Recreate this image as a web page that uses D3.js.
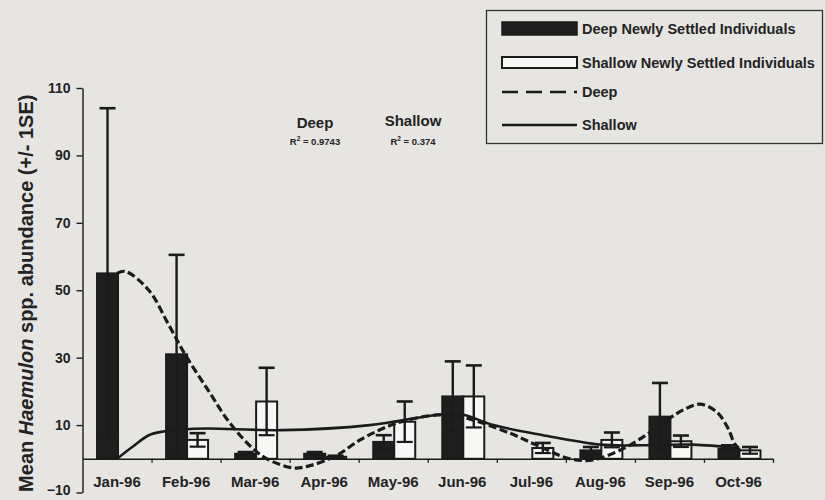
<!DOCTYPE html>
<html>
<head>
<meta charset="utf-8">
<script src="https://cdn.jsdelivr.net/npm/d3@7"></script>
<style>
  html, body { margin: 0; padding: 0; background: #e6e5e2; }
  svg { display: block; }
  text { font-family: "Liberation Sans", Arial, sans-serif; fill: #232323; }
</style>
</head>
<body>
<svg id="chart" width="825" height="500"></svg>
<script>
// Monthly categories
const months = ["Jan-96", "Feb-96", "Mar-96", "Apr-96", "May-96", "Jun-96", "Jul-96", "Aug-96", "Sep-96", "Oct-96"];

// Mean abundance of newly settled individuals and their standard errors
const deepMean    = [55, 31, 1.5, 1.5, 5, 18.5, 0, 2.5, 12.5, 3];
const deepSE      = [49, 29.5, 0.5, 0.5, 2, 10.4, 0, 1, 10, 1];
const shallowMean = [0, 5.6, 17, 0.6, 11, 18.5, 3.2, 5.6, 5.2, 2.5];
const shallowSE   = [0, 2, 10, 0.3, 6, 9.2, 1.5, 2.2, 1.7, 1];

// Polynomial trend lines, sampled as [month position (Jan = 0), value]
const deepTrendPos = [0, 0.12, 0.46, 0.75, 0.99, 1.33, 1.62, 1.96, 2.17, 2.55, 2.8, 3.18, 3.52, 3.81, 4.05, 4.63, 4.97, 5.69, 6.08, 6.56, 6.9, 7.33, 7.68, 8.0, 8.2, 8.44, 8.68, 8.85, 8.94, 9.0];
const deepTrendVal = [55, 55.6, 50, 39.7, 30.8, 20, 11, 3.2, 0, -2.7, -2, 1, 5.6, 8.6, 10.6, 13, 12.5, 7.6, 4, 0, -0.3, 3, 7.3, 12, 14.5, 16.2, 14, 9, 4.6, 3.2];
const shallowTrendPos = [0, 0.22, 0.46, 0.67, 0.94, 1.3, 2.39, 3.66, 4.63, 4.97, 5.45, 6.17, 7.0, 7.62, 8.34, 8.98];
const shallowTrendVal = [0, 3.5, 7, 8.1, 8.7, 9, 8.5, 10, 13, 13.3, 10, 7, 4.2, 4, 4.2, 3.2];

// Axis ticks
const yTicks = [-10, 10, 30, 50, 70, 90, 110];

// Trend fit statistics
const fitLabels = [
  { name: "Deep", r2: "0.9743" },
  { name: "Shallow", r2: "0.374" }
];

const legendItems = [
  { label: "Deep Newly Settled Individuals", kind: "deepBar" },
  { label: "Shallow Newly Settled Individuals", kind: "shallowBar" },
  { label: "Deep", kind: "dash" },
  { label: "Shallow", kind: "solid" }
];

const svg = d3.select("#chart");
const ink = "#1b1b1b";

const x = d3.scaleBand().domain(months).range([82.5, 773]).padding(0);
const y = d3.scaleLinear().domain([-10, 110]).range([492.5, 88]);
const sub = d3.scaleBand().domain(["deep", "shallow"]).range([-20, 22]);
const pos = d3.scaleLinear().domain([0, months.length - 1])
  .range([x(months[0]) + x.bandwidth() / 2, x(months[months.length - 1]) + x.bandwidth() / 2]);

// Y axis
const yAxis = svg.append("g")
  .attr("transform", `translate(${x.range()[0]},0)`)
  .call(d3.axisLeft(y).tickValues(yTicks).tickSize(6).tickPadding(6).tickSizeOuter(0));
yAxis.select(".domain").attr("stroke", ink).attr("stroke-width", 1.4);
yAxis.selectAll(".tick line").attr("stroke", ink).attr("stroke-width", 1.4);
yAxis.selectAll(".tick text")
  .attr("font-size", 14).attr("font-weight", "bold")
  .attr("font-family", "'Liberation Sans', Arial, sans-serif").attr("fill", "#232323")
  .attr("dy", d => d === -10 ? "0.12em" : "0.32em");

// X axis along the zero line: boundary ticks plus centred month labels
const bounds = d3.scaleLinear().domain([0, months.length]).range(x.range());
const xTickAxis = svg.append("g")
  .attr("transform", `translate(0,${y(0)})`)
  .call(d3.axisBottom(bounds).tickValues(d3.range(1, months.length + 1)).tickSize(4).tickFormat("").tickSizeOuter(0));
xTickAxis.select(".domain").attr("stroke", ink).attr("stroke-width", 1.6);
xTickAxis.selectAll(".tick line").attr("stroke", ink).attr("stroke-width", 1.3);

const xLabels = svg.append("g")
  .attr("transform", `translate(0,${y(0)})`)
  .call(d3.axisBottom(x).tickSize(0).tickPadding(18));
xLabels.select(".domain").remove();
xLabels.selectAll(".tick text")
  .attr("font-size", 15).attr("font-weight", "bold")
  .attr("font-family", "'Liberation Sans', Arial, sans-serif").attr("fill", "#232323");

// Y axis title
const yTitle = svg.append("text")
  .attr("transform", `translate(33,${(y(110) + y(-10)) / 2 + 3}) rotate(-90)`)
  .attr("text-anchor", "middle")
  .attr("font-size", 20).attr("font-weight", "bold");
yTitle.append("tspan").text("Mean ");
yTitle.append("tspan").attr("font-style", "italic").text("Haemulon");
yTitle.append("tspan").text(" spp. abundance (+/- 1SE)");

// Bars
const rows = months.map((m, i) => ({
  m,
  groups: [
    { key: "deep", v: deepMean[i], se: deepSE[i] },
    { key: "shallow", v: shallowMean[i], se: shallowSE[i] }
  ]
}));

const groupSel = svg.append("g").selectAll("g").data(rows).join("g")
  .attr("transform", d => `translate(${x(d.m) + x.bandwidth() / 2},0)`);

const barSel = groupSel.selectAll("g.bar").data(d => d.groups.filter(g => g.v > 0)).join("g").attr("class", "bar");

barSel.append("rect")
  .attr("x", d => sub(d.key))
  .attr("width", sub.bandwidth())
  .attr("y", d => y(d.v))
  .attr("height", d => y(0) - y(d.v))
  .attr("fill", d => d.key === "deep" ? "#1e1e1e" : "#f7f7f5")
  .attr("stroke", ink)
  .attr("stroke-width", 2);

// Error bars (+/- 1SE) with caps
const capW = 16;
const errSel = barSel.filter(d => d.se > 0);
errSel.append("line")
  .attr("x1", d => sub(d.key) + sub.bandwidth() / 2)
  .attr("x2", d => sub(d.key) + sub.bandwidth() / 2)
  .attr("y1", d => y(Math.max(d.v - d.se, 0)))
  .attr("y2", d => y(d.v + d.se))
  .attr("stroke", ink).attr("stroke-width", 2.4);
errSel.append("line")
  .attr("x1", d => sub(d.key) + sub.bandwidth() / 2 - capW / 2)
  .attr("x2", d => sub(d.key) + sub.bandwidth() / 2 + capW / 2)
  .attr("y1", d => y(d.v + d.se)).attr("y2", d => y(d.v + d.se))
  .attr("stroke", ink).attr("stroke-width", 2.6);
errSel.filter(d => d.v - d.se > 0).append("line")
  .attr("x1", d => sub(d.key) + sub.bandwidth() / 2 - capW / 2)
  .attr("x2", d => sub(d.key) + sub.bandwidth() / 2 + capW / 2)
  .attr("y1", d => y(d.v - d.se)).attr("y2", d => y(d.v - d.se))
  .attr("stroke", ink).attr("stroke-width", 2.2);

// Trend lines
const line = d3.line()
  .x(d => pos(d[0]))
  .y(d => y(d[1]))
  .curve(d3.curveCatmullRom.alpha(0.5));

svg.append("path")
  .datum(shallowTrendPos.map((p, i) => [p, shallowTrendVal[i]]))
  .attr("d", line)
  .attr("fill", "none").attr("stroke", ink).attr("stroke-width", 2.6);

svg.append("path")
  .datum(deepTrendPos.map((p, i) => [p, deepTrendVal[i]]))
  .attr("d", line)
  .attr("fill", "none").attr("stroke", ink).attr("stroke-width", 3.2)
  .attr("stroke-dasharray", "8,3.5");

// Fit annotations
const fitX = [315, 413];
fitLabels.forEach((f, i) => {
  svg.append("text").attr("x", fitX[i]).attr("y", i === 0 ? 128 : 126)
    .attr("text-anchor", "middle").attr("font-size", 15).attr("font-weight", "bold")
    .text(f.name);
  const t = svg.append("text").attr("x", fitX[i]).attr("y", 145)
    .attr("text-anchor", "middle").attr("font-size", 9.5).attr("font-weight", "bold");
  t.append("tspan").text("R");
  t.append("tspan").attr("font-size", 6.5).attr("dy", -4).text("2");
  t.append("tspan").attr("dy", 4).text(" = " + f.r2);
});

// Legend
const legend = svg.append("g");
legend.append("rect")
  .attr("x", 486.5).attr("y", 10.5).attr("width", 336).attr("height", 133)
  .attr("fill", "none").attr("stroke", "#333").attr("stroke-width", 1.3);

const legendY = [28.5, 62.5, 92, 125];
legendItems.forEach((it, i) => {
  const cy = legendY[i];
  if (it.kind === "deepBar") {
    legend.append("rect").attr("x", 502).attr("y", cy - 6.5).attr("width", 75).attr("height", 13)
      .attr("fill", "#1e1e1e").attr("stroke", ink).attr("stroke-width", 1.5);
  } else if (it.kind === "shallowBar") {
    legend.append("rect").attr("x", 502).attr("y", cy - 5.5).attr("width", 75).attr("height", 11)
      .attr("fill", "#f7f7f5").attr("stroke", ink).attr("stroke-width", 2);
  } else {
    legend.append("line").attr("x1", 502).attr("x2", 577).attr("y1", cy).attr("y2", cy)
      .attr("stroke", ink).attr("stroke-width", 2.6)
      .attr("stroke-dasharray", it.kind === "dash" ? "16,8" : null);
  }
  legend.append("text").attr("x", 582).attr("y", cy + 5)
    .attr("font-size", 14.5).attr("font-weight", "bold")
    .text(it.label);
});
</script>
</body>
</html>
